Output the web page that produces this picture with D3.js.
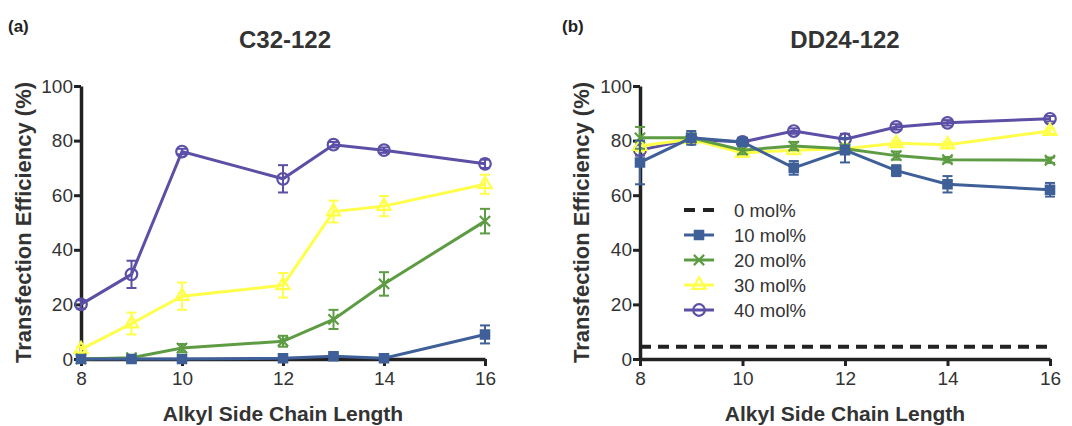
<!DOCTYPE html>
<html>
<head>
<meta charset="utf-8">
<script src="https://cdn.jsdelivr.net/npm/d3@7"></script>
<style>
  body { margin: 0; background: #ffffff; }
  svg { font-family: "Liberation Sans", Arial, sans-serif; }
</style>
</head>
<body>
<div id="chart"></div>
<script>
// Data (transfection efficiency in %, mean and error)
const chainLengthA = [8, 9, 10, 12, 13, 14, 16];
const chainLengthB = [8, 9, 10, 11, 12, 13, 14, 16];

// (a) C32-122
const a10 = [0, 0, 0, 0.3, 1, 0.3, 9];
const a10Err = [0.5, 0.5, 0.5, 0.5, 1, 0.5, 3.3];
const a20 = [0, 0.5, 4, 6.5, 14.5, 27.5, 50.5];
const a20Err = [0.5, 0.5, 1.5, 2, 3.5, 4.3, 4.5];
const a30 = [3.5, 13, 23, 27, 54, 56, 64];
const a30Err = [1, 4, 5, 4.5, 4, 3.7, 3.5];
const a40 = [20, 31, 76, 66, 78.5, 76.5, 71.5];
const a40Err = [1.5, 5, 1, 5, 1, 1, 1.5];

// (b) DD24-122
const b0Level = [4.5, 4.5];           // 0 mol% reference, drawn across the range
const b0Range = [8, 16];
const b10 = [72, 81, 79.5, 70, 76.5, 69, 64, 62];
const b10Err = [8, 2.5, 1.5, 2.5, 4.5, 2, 3, 2.5];
const b20 = [81, 81, 76.5, 78, 77, 74.5, 73, 72.8];
const b20Err = [4, 1.5, 1.5, 1.5, 1.5, 1.5, 1, 1];
const b30 = [78, 80.5, 75.5, 76.5, 77, 79, 78.5, 83.5];
const b30Err = [2, 1.5, 1.5, 1.5, 1.5, 1, 1, 1];
const b40 = [76.5, 80.5, 79.5, 83.5, 80.5, 85, 86.5, 88];
const b40Err = [2, 1.5, 1, 1, 2, 1, 1, 1];

const seriesLabels = ["0 mol%", "10 mol%", "20 mol%", "30 mol%", "40 mol%"];
const xTicks = [8, 10, 12, 14, 16];
const yTicks = [0, 20, 40, 60, 80, 100];

// Colours and marker types per series
const colorMapping = {
    "0 mol%": "#222222",
    "10 mol%": "#3f5f98",
    "20 mol%": "#5e9c44",
    "30 mol%": "#ffff4a",
    "40 mol%": "#5b4fa6"
};
const markerMapping = {
    "10 mol%": { type: d3.symbolSquare, size: 70, fill: true },
    "20 mol%": { type: d3.symbolX, size: 70, fill: false },
    "30 mol%": { type: d3.symbolTriangle, size: 75, fill: false },
    "40 mol%": { type: d3.symbolCircle, size: 105, fill: false }
};

function buildSeries(xs, values, errors, label) {
    return { label, points: xs.map((x, i) => ({ x, y: values[i], e: errors[i] })) };
}

const panelA = {
    tag: "(a)", title: "C32-122", left: 81, right: 485,
    titleX: 285, tagX: 8, yLabelX: 25,
    series: [
        buildSeries(chainLengthA, a40, a40Err, "40 mol%"),
        buildSeries(chainLengthA, a30, a30Err, "30 mol%"),
        buildSeries(chainLengthA, a20, a20Err, "20 mol%"),
        buildSeries(chainLengthA, a10, a10Err, "10 mol%")
    ],
    dashed: null,
    legend: false
};

const panelB = {
    tag: "(b)", title: "DD24-122", left: 640, right: 1050,
    titleX: 845, tagX: 562, yLabelX: 583,
    series: [
        buildSeries(chainLengthB, b40, b40Err, "40 mol%"),
        buildSeries(chainLengthB, b30, b30Err, "30 mol%"),
        buildSeries(chainLengthB, b20, b20Err, "20 mol%"),
        buildSeries(chainLengthB, b10, b10Err, "10 mol%")
    ],
    dashed: b0Range.map((x, i) => ({ x, y: b0Level[i] })),
    legend: true
};

const chartWidth = 1072;
const chartHeight = 426;
const plotTop = 86, plotBottom = 359;

const svg = d3.select('#chart').append('svg')
    .attr('width', chartWidth)
    .attr('height', chartHeight);

function drawMarker(g, label) {
    const m = markerMapping[label];
    const c = colorMapping[label];
    g.append('path')
        .attr('d', d3.symbol().type(m.type).size(m.size)())
        .attr('fill', m.fill ? c : 'none')
        .attr('stroke', c)
        .attr('stroke-width', 2.2);
}

function drawPanel(p) {
    const x = d3.scaleLinear().domain([8, 16]).range([p.left, p.right]);
    const y = d3.scaleLinear().domain([0, 100]).range([plotBottom, plotTop]);
    const g = svg.append('g');

    // Tag and title
    g.append('text').attr('x', p.tagX).attr('y', 32)
        .attr('font-size', 17).attr('font-weight', 'bold').attr('fill', '#222')
        .text(p.tag);
    g.append('text').attr('x', p.titleX).attr('y', 48)
        .attr('text-anchor', 'middle')
        .attr('font-size', 24).attr('font-weight', 'bold').attr('fill', '#333')
        .text(p.title);

    // Axes
    const yAxis = g.append('g')
        .attr('transform', `translate(${p.left},0)`)
        .call(d3.axisLeft(y).tickValues(yTicks).tickSize(7).tickSizeOuter(0).tickPadding(1));
    const xAxis = g.append('g')
        .attr('transform', `translate(0,${plotBottom})`)
        .call(d3.axisBottom(x).tickValues(xTicks).tickSize(7).tickSizeOuter(0).tickPadding(6));
    [yAxis, xAxis].forEach(ax => {
        ax.select('.domain').attr('stroke', '#222').attr('stroke-width', 3.5);
        ax.selectAll('.tick line').attr('stroke', '#222').attr('stroke-width', 3);
        ax.selectAll('.tick text').attr('font-size', 19).attr('fill', '#333')
            .attr('font-family', '"Liberation Sans", Arial, sans-serif');
    });

    // Axis labels
    g.append('text')
        .attr('transform', `translate(${p.yLabelX},${(plotTop + plotBottom) / 2}) rotate(-90)`)
        .attr('text-anchor', 'middle').attr('dominant-baseline', 'middle')
        .attr('font-size', 22).attr('font-weight', 'bold').attr('fill', '#333')
        .text('Transfection Efficiency (%)');
    g.append('text')
        .attr('x', (p.left + p.right) / 2).attr('y', 421)
        .attr('text-anchor', 'middle')
        .attr('font-size', 21).attr('font-weight', 'bold').attr('fill', '#333')
        .text('Alkyl Side Chain Length');

    // 0 mol% dashed reference line
    if (p.dashed) {
        g.append('path')
            .datum(p.dashed)
            .attr('d', d3.line().x(d => x(d.x)).y(d => y(d.y)))
            .attr('stroke', colorMapping["0 mol%"])
            .attr('stroke-width', 4)
            .attr('stroke-dasharray', '11,7')
            .attr('stroke-dashoffset', -18)
            .attr('fill', 'none');
    }

    const line = d3.line().x(d => x(d.x)).y(d => y(d.y));

    p.series.forEach(s => {
        const c = colorMapping[s.label];
        const sg = g.append('g');
        sg.append('path')
            .datum(s.points)
            .attr('d', line)
            .attr('fill', 'none')
            .attr('stroke', c)
            .attr('stroke-width', 3);

        // Error bars
        const eb = sg.selectAll('g.err').data(s.points).enter().append('g').attr('class', 'err');
        eb.append('line')
            .attr('x1', d => x(d.x)).attr('x2', d => x(d.x))
            .attr('y1', d => y(d.y - d.e)).attr('y2', d => y(d.y + d.e))
            .attr('stroke', c).attr('stroke-width', 2);
        [-1, 1].forEach(sign => {
            eb.append('line')
                .attr('x1', d => x(d.x) - 5).attr('x2', d => x(d.x) + 5)
                .attr('y1', d => y(d.y + sign * d.e)).attr('y2', d => y(d.y + sign * d.e))
                .attr('stroke', c).attr('stroke-width', 2);
        });

        // Markers
        sg.selectAll('g.pt').data(s.points).enter().append('g')
            .attr('class', 'pt')
            .attr('transform', d => `translate(${x(d.x)},${y(d.y)})`)
            .each(function() { drawMarker(d3.select(this), s.label); });
    });

    // Legend
    if (p.legend) {
        seriesLabels.forEach((label, i) => {
            const ly = 210 + i * 25;
            const lg = g.append('g').attr('transform', `translate(684,${ly})`);
            if (label === "0 mol%") {
                lg.append('line').attr('x1', 0).attr('x2', 30).attr('y1', 0).attr('y2', 0)
                    .attr('stroke', colorMapping[label]).attr('stroke-width', 4)
                    .attr('stroke-dasharray', '11,8');
            } else {
                lg.append('line').attr('x1', 0).attr('x2', 30).attr('y1', 0).attr('y2', 0)
                    .attr('stroke', colorMapping[label]).attr('stroke-width', 3);
                const mg = lg.append('g').attr('transform', 'translate(15,0)');
                drawMarker(mg, label);
            }
            lg.append('text').attr('x', 50).attr('y', 0)
                .attr('dominant-baseline', 'central')
                .attr('font-size', 18.5).attr('fill', '#333')
                .text(label);
        });
    }
}

drawPanel(panelA);
drawPanel(panelB);
</script>
</body>
</html>
